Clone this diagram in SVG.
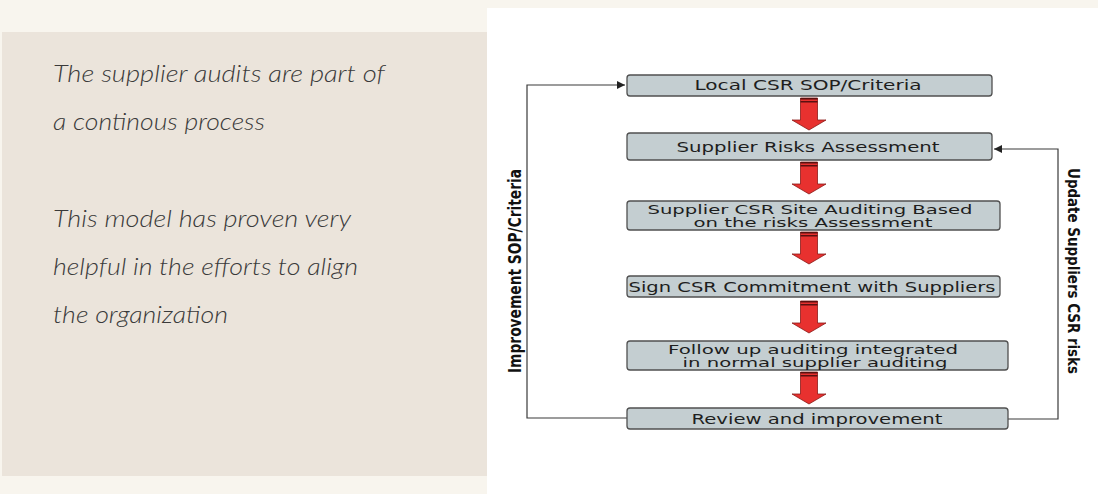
<svg xmlns="http://www.w3.org/2000/svg" width="1098" height="494" viewBox="0 0 1098 494">
<style>
.note{font-family:Lato,"Open Sans","Liberation Sans",sans-serif;font-style:italic;font-weight:300;font-size:24px;fill:#3a3a3a}
.box{fill:#c4ced1;stroke:#505050;stroke-width:1.3}
.bt{font-family:"DejaVu Sans",Verdana,sans-serif;font-size:13.5px;fill:#1e1e1e;text-anchor:middle}
.bt2{font-family:"DejaVu Sans",Verdana,sans-serif;font-size:11.5px;fill:#1e1e1e;text-anchor:middle}
.vl{font-family:"Liberation Sans Narrow","DejaVu Sans Condensed","Liberation Sans",sans-serif;font-weight:bold;fill:#111;text-anchor:middle}
.conn{fill:none;stroke:#3a3a3a;stroke-width:1.2}
.red{fill:#e8312f;stroke:#8a1a18;stroke-width:0.8}
</style>
<defs>
<marker id="ah" viewBox="0 0 10 10" refX="10" refY="5" markerWidth="8" markerHeight="8" markerUnits="userSpaceOnUse" orient="auto">
<path d="M0,0 L10,5 L0,10 Z" fill="#222"/>
</marker>
<g id="redArrow">
<path class="red" d="M-8.5,0 H8.5 V22 H17 L0,32 L-17,22 H-8.5 Z"/>
<rect x="-8.5" y="0" width="17" height="1.5" fill="#5a1010"/>
<rect x="-8.5" y="3" width="17" height="1.5" fill="#5a1010"/>
</g>
</defs>
<rect width="1098" height="494" fill="#f8f5ee"/>
<rect x="2" y="32" width="485" height="444" fill="#ebe4db"/>
<rect x="487" y="8" width="611" height="486" fill="#ffffff"/>

<g id="notes">
<text class="note" x="53" y="82" textLength="332" lengthAdjust="spacingAndGlyphs">The supplier audits are part of</text>
<text class="note" x="53" y="130" textLength="212" lengthAdjust="spacingAndGlyphs">a continous process</text>
<text class="note" x="53" y="227" textLength="298" lengthAdjust="spacingAndGlyphs">This model has proven very</text>
<text class="note" x="53" y="275" textLength="305" lengthAdjust="spacingAndGlyphs">helpful in the efforts to align</text>
<text class="note" x="53" y="323" textLength="175" lengthAdjust="spacingAndGlyphs">the organization</text>
</g>

<g id="connectors">
<path class="conn" d="M627,418 H527 V85 H625" marker-end="url(#ah)"/>
<path class="conn" d="M1008,419 H1058 V149 H994" marker-end="url(#ah)"/>
<use href="#redArrow" x="809" y="98"/>
<use href="#redArrow" x="809" y="162"/>
<use href="#redArrow" x="809" y="232"/>
<use href="#redArrow" x="809" y="301"/>
<use href="#redArrow" x="809" y="372"/>
</g>

<g id="node-local">
<rect class="box" x="627" y="75" width="365" height="21" rx="3"/>
<text class="bt" x="808" y="90" textLength="227" lengthAdjust="spacingAndGlyphs">Local CSR SOP/Criteria</text>
</g>
<g id="node-risks">
<rect class="box" x="627" y="133" width="365" height="27" rx="3"/>
<text class="bt" x="808" y="152" textLength="263" lengthAdjust="spacingAndGlyphs">Supplier Risks Assessment</text>
</g>
<g id="node-site">
<rect class="box" x="627" y="201" width="373" height="29" rx="3"/>
<text class="bt2" x="810" y="214" textLength="325" lengthAdjust="spacingAndGlyphs">Supplier CSR Site Auditing Based</text>
<text class="bt2" x="813" y="227" textLength="239" lengthAdjust="spacingAndGlyphs">on the risks Assessment</text>
</g>
<g id="node-sign">
<rect class="box" x="627" y="276" width="373" height="21" rx="3"/>
<text class="bt" x="812" y="292" textLength="367" lengthAdjust="spacingAndGlyphs">Sign CSR Commitment with Suppliers</text>
</g>
<g id="node-follow">
<rect class="box" x="627" y="341" width="381" height="29" rx="3"/>
<text class="bt2" x="813" y="354" textLength="290" lengthAdjust="spacingAndGlyphs">Follow up auditing integrated</text>
<text class="bt2" x="815" y="367" textLength="265" lengthAdjust="spacingAndGlyphs">in normal supplier auditing</text>
</g>
<g id="node-review">
<rect class="box" x="627" y="408" width="381" height="21" rx="3"/>
<text class="bt" x="817" y="424" textLength="251" lengthAdjust="spacingAndGlyphs">Review and improvement</text>
</g>

<g id="label-left">
<text class="vl" font-size="17" transform="translate(521,271) rotate(-90)" textLength="204" lengthAdjust="spacingAndGlyphs">Improvement SOP/Criteria</text>
</g>
<g id="label-right">
<text class="vl" font-size="15" transform="translate(1068,271) rotate(90)" textLength="206" lengthAdjust="spacingAndGlyphs">Update Suppliers CSR risks</text>
</g>
</svg>
